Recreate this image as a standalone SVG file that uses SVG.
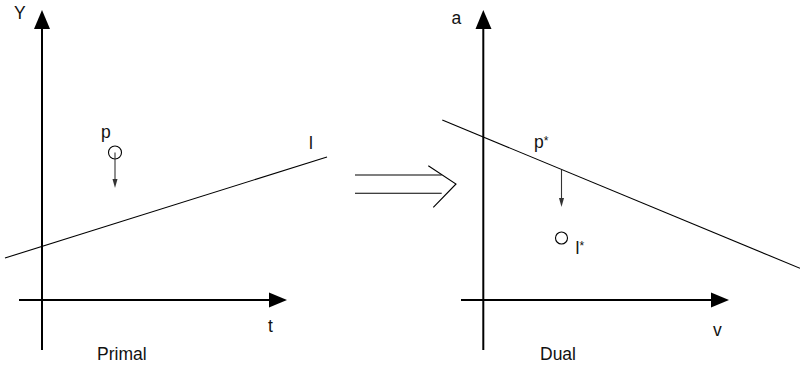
<svg xmlns="http://www.w3.org/2000/svg" width="800" height="369" viewBox="0 0 800 369">
<style>
.ax{stroke:#000;stroke-width:2;fill:none}
.ln{stroke:#000;stroke-width:1.1;fill:none}
.sm{stroke:#333;stroke-width:1.1;fill:none}
.hd{fill:#000;stroke:none}
.sh{fill:#333;stroke:none}
text{font-family:"Liberation Sans",Arial,sans-serif;font-size:17.5px;fill:#111}
.st{font-size:12px}
</style>
<rect width="800" height="369" fill="#fff"/>
<g id="primal">
<line class="ax" x1="42" y1="350" x2="42" y2="26"/>
<polygon class="hd" points="42,10 34,29 50,29"/>
<line class="ax" x1="19" y1="300" x2="272" y2="300"/>
<polygon class="hd" points="287,300 269,292.5 269,307.5"/>
<line class="ln" x1="5" y1="258" x2="327" y2="157"/>
<circle class="ln" cx="115" cy="152.5" r="6.5"/>
<line class="sm" x1="115" y1="152.5" x2="115" y2="182"/>
<polygon class="sh" points="115,188 112.5,179 117.5,179"/>
<text x="14" y="19">Y</text>
<text x="101" y="138">p</text>
<text x="309" y="148.5">l</text>
<text x="268" y="332">t</text>
<text x="97" y="359.5">Primal</text>
</g>
<g id="transform">
<line class="ln" x1="355" y1="175" x2="441.7" y2="175"/>
<line class="ln" x1="355" y1="193.3" x2="441.7" y2="193.3"/>
<polyline class="ln" points="428.3,165.7 456,184 433.3,207.3"/>
</g>
<g id="dual">
<line class="ax" x1="483.3" y1="350" x2="483.3" y2="26"/>
<polygon class="hd" points="483.3,10 475.5,29 491.5,29"/>
<line class="ax" x1="461" y1="300" x2="714" y2="300"/>
<polygon class="hd" points="729,300 711,292.5 711,307.5"/>
<line class="ln" x1="442.3" y1="120" x2="800" y2="268.3"/>
<line class="sm" x1="561.5" y1="170" x2="561.5" y2="201"/>
<polygon class="sh" points="561.5,207 559,198 564,198"/>
<circle class="ln" cx="561.5" cy="238" r="6"/>
<text x="451.5" y="24">a</text>
<text x="534" y="148">p<tspan class="st" dy="-3">*</tspan></text>
<text x="575.5" y="254">l<tspan class="st" dy="-4.5">*</tspan></text>
<text x="713" y="336">v</text>
<text x="540" y="360">Dual</text>
</g>
</svg>
